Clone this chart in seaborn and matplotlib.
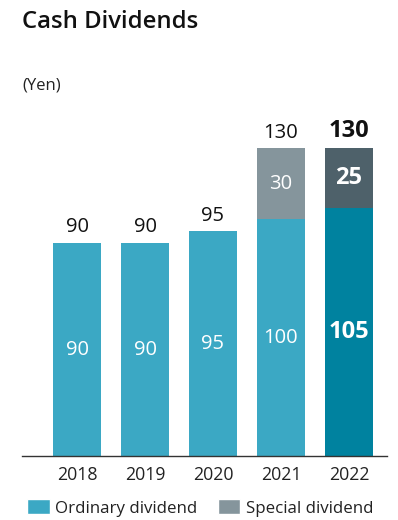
import matplotlib
matplotlib.use("Agg")
import matplotlib.pyplot as plt
import seaborn as sns
import pandas as pd
from matplotlib.patches import Patch

years = ["2018", "2019", "2020", "2021", "2022"]
ordinary = [90, 90, 95, 100, 105]
special = [0, 0, 0, 30, 25]
totals = [o + s for o, s in zip(ordinary, special)]

ord_colors = ["#3BA8C4", "#3BA8C4", "#3BA8C4", "#3BA8C4", "#00829F"]
spec_colors = ["#85959C", "#85959C", "#85959C", "#85959C", "#4E616A"]

sns.set_theme(style="white")
plt.rcParams["font.family"] = ["Open Sans", "DejaVu Sans"]

df = pd.DataFrame({"year": years, "ordinary": ordinary,
                   "special": special, "total": totals})

fig = plt.figure(figsize=(3.98, 5.2), dpi=100)
ax = fig.add_axes([22 / 398, 64 / 520, 365 / 398, 346 / 520])

# totals drawn first (special portion shows above ordinary)
sns.barplot(data=df, x="year", y="total", hue="year", palette=spec_colors,
            legend=False, width=0.706, ax=ax, saturation=1, linewidth=0)
sns.barplot(data=df, x="year", y="ordinary", hue="year", palette=ord_colors,
            legend=False, width=0.706, ax=ax, saturation=1, linewidth=0)

ax.set_xlim(-0.81, 4.56)
ax.set_ylim(0, 146.2)
ax.set_xlabel("")
ax.set_ylabel("")
ax.set_yticks([])
for s in ["top", "right", "left"]:
    ax.spines[s].set_visible(False)
ax.spines["bottom"].set_color("#333333")
ax.spines["bottom"].set_linewidth(1.0)
ax.tick_params(axis="x", length=0, labelsize=12.8, colors="#222222", pad=7)

last = len(years) - 1
for i, (o, s, t) in enumerate(zip(ordinary, special, totals)):
    bold = i == last
    fw = "bold" if bold else "normal"
    fs = 17 if bold else 14.5
    ax.text(i, o / 2, str(o), ha="center", va="center", color="white",
            fontsize=fs, fontweight=fw)
    if s:
        ax.text(i, o + s / 2, str(s), ha="center", va="center",
                color="white", fontsize=fs, fontweight=fw)
    ax.annotate(str(t), (i, t), xytext=(0, 4), textcoords="offset points",
                ha="center", va="bottom", color="#111111", fontsize=fs,
                fontweight=fw)

fig.text(22 / 398, 1 - 22 / 520, "Cash Dividends", ha="left", va="center",
         fontsize=17.2, fontweight="semibold", color="#111111")
fig.text(22 / 398, 1 - 86 / 520, "(Yen)", ha="left", va="center",
         fontsize=12, color="#222222")

handles = [Patch(facecolor=ord_colors[0], label="Ordinary dividend"),
           Patch(facecolor=spec_colors[0], label="Special dividend")]
fig.legend(handles=handles, loc="center left",
           bbox_to_anchor=(27 / 398, 1 - 508 / 520), ncol=2, frameon=False,
           fontsize=12.2, handlelength=1.35, handleheight=0.95,
           handletextpad=0.3, columnspacing=1.2, borderaxespad=0,
           borderpad=0, labelcolor="#222222")

fig.savefig("out.png", dpi=100)
